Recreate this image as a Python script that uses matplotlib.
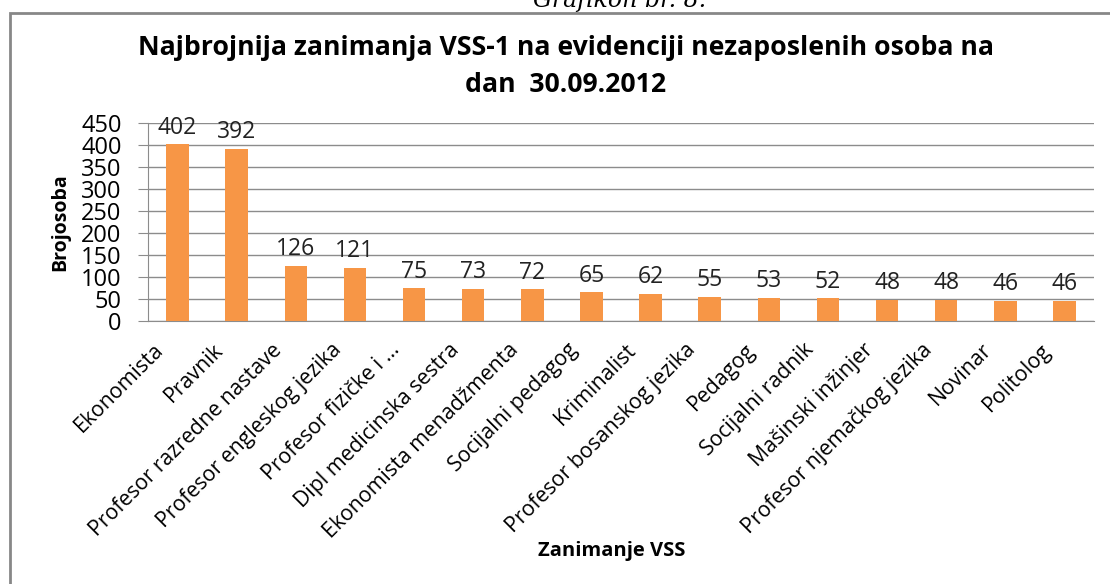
import numpy as np
import matplotlib.pyplot as plt
from matplotlib.patches import Rectangle
from matplotlib.transforms import ScaledTranslation

categories = ['Ekonomista', 'Pravnik', 'Profesor razredne nastave', 'Profesor engleskog jezika',
              'Profesor fizičke i ...', 'Dipl medicinska sestra', 'Ekonomista menadžmenta',
              'Socijalni pedagog', 'Kriminalist', 'Profesor bosanskog jezika', 'Pedagog',
              'Socijalni radnik', 'Mašinski inžinjer', 'Profesor njemačkog jezika', 'Novinar',
              'Politolog']
values = [402, 392, 126, 121, 75, 73, 72, 65, 62, 55, 53, 52, 48, 48, 46, 46]
yticks = [0, 50, 100, 150, 200, 250, 300, 350, 400, 450]

plt.rcParams['font.family'] = ['Open Sans', 'DejaVu Sans']

W, H = 1110, 584
fig = plt.figure(figsize=(W / 100, H / 100), dpi=100)
ax = fig.add_axes([148 / W, 1 - 321 / H, (1094 - 148) / W, (321 - 123) / H])

x = np.arange(len(categories))
ax.bar(x, values, width=0.38, color='#F79646', zorder=3)
for xi, v in zip(x, values):
    ax.text(xi, v + 10, str(v), ha='center', va='bottom', fontsize=16.5, color='#222222', zorder=4)

ax.set_xlim(-0.5, len(categories) - 0.5)
ax.set_ylim(0, 450)
ax.set_yticks(yticks)
ax.set_yticklabels([str(t) for t in yticks], fontsize=17)
ax.yaxis.grid(True, color='#8c8c8c', linewidth=1, zorder=0)
ax.set_xticks(x)
ax.set_xticklabels([])
ax.tick_params(axis='x', length=0)
ax.tick_params(axis='y', length=7, color='#8c8c8c', pad=12)

# rotated category labels, right end a bit left of and below each bar
lab_trans = ax.get_xaxis_transform() + ScaledTranslation(-0.17, -0.26, fig.dpi_scale_trans)
for xi, c in zip(x, categories):
    ax.text(xi, 0, c, rotation=45, ha='right', va='center', rotation_mode='anchor',
            fontsize=15.3, transform=lab_trans, clip_on=False)

for s in ['top', 'right']:
    ax.spines[s].set_visible(False)
ax.spines['left'].set_color('#8c8c8c')
ax.spines['bottom'].set_color('#8c8c8c')

ax.set_ylabel('Brojosoba', fontsize=14, fontweight='bold', labelpad=8)
fig.text(612 / W, 1 - 551 / H, 'Zanimanje VSS', ha='center', va='center', fontsize=14.5, fontweight='bold')

fig.text(566 / W, 1 - 48 / H, 'Najbrojnija zanimanja VSS-1 na evidenciji nezaposlenih osoba na',
         ha='center', va='center', fontsize=19.2, fontweight='bold')
fig.text(566 / W, 1 - 85 / H, 'dan  30.09.2012', ha='center', va='center', fontsize=19.2, fontweight='bold')

fig.text(620 / W, 1.0, 'Grafikon br. 8.', ha='center', va='center', fontsize=17,
         style='italic', family='DejaVu Serif')

fig.patches.append(Rectangle((10 / W, -0.1), 1.2, 1 - 13 / H + 0.1, transform=fig.transFigure,
                             fill=False, edgecolor='#878787', linewidth=2))

fig.savefig('out.png', dpi=100)
